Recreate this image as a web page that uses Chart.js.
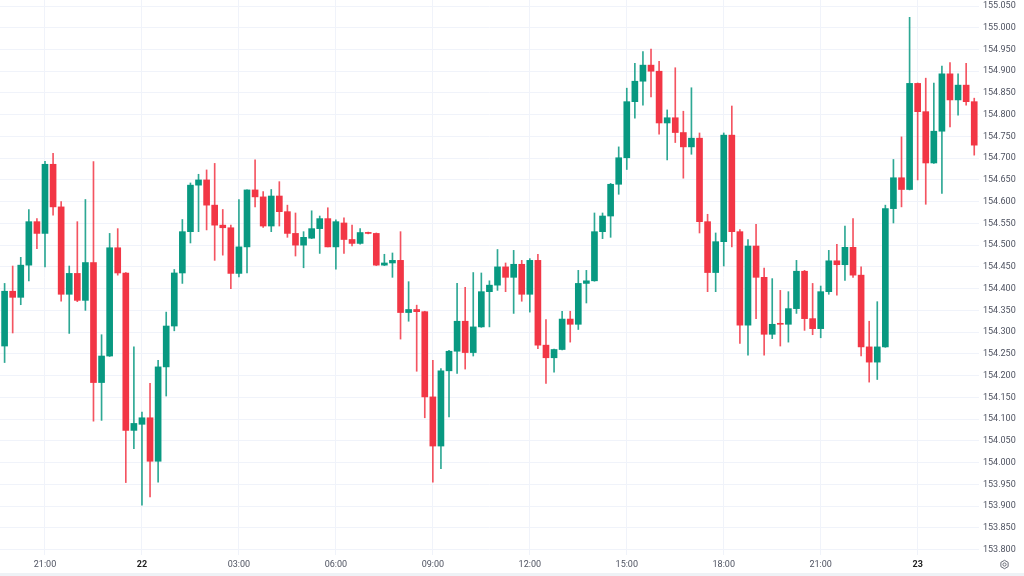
<!DOCTYPE html>
<html>
<head>
<meta charset="utf-8">
<script src="https://cdn.jsdelivr.net/npm/chart.js@4.4.1/dist/chart.umd.min.js"></script>
<style>
  html, body { margin: 0; padding: 0; background: #ffffff; }
  #wrap { width: 1024px; height: 576px; position: relative; }
  canvas { display: block; }
</style>
</head>
<body>
<div id="wrap"><canvas id="c" width="1024" height="576"></canvas></div>
<script>
// ---- DATA (15-minute candles, 21st 19:45 -> 23rd 01:45) ----
const startDay = 21;
const startMinutes = 19 * 60 + 45;
const stepMinutes = 15;

const open = [
  154.268,154.394,154.380,154.454,154.554,154.527,154.686,154.588,154.387,154.435,
  154.373,154.460,154.184,154.245,154.494,154.436,154.074,154.088,154.103,154.003,
  154.220,154.314,154.436,154.531,154.638,154.650,154.592,154.546,154.540,154.435,
  154.496,154.627,154.611,154.544,154.613,154.577,154.527,154.500,154.516,154.538,
  154.561,154.496,154.551,154.513,154.504,154.529,154.527,154.454,154.459,154.465,
  154.345,154.352,154.347,154.151,154.038,154.211,154.256,154.325,154.253,154.312,
  154.393,154.408,154.450,154.426,154.456,154.387,154.465,154.270,154.241,154.260,
  154.330,154.318,154.412,154.418,154.531,154.567,154.640,154.701,154.830,154.877,
  154.914,154.900,154.781,154.793,154.759,154.726,154.746,154.554,154.437,154.508,
  154.753,154.531,154.316,154.498,154.426,154.295,154.320,154.318,154.354,154.440,
  154.331,154.308,154.393,154.464,154.455,154.495,154.431,154.266,154.231,154.266,
  154.584,154.655,154.628,154.872,154.807,154.689,154.762,154.894,154.834,154.868,
  154.830
];
const high = [
  154.412,154.452,154.472,154.582,154.561,154.693,154.711,154.600,154.452,154.554,
  154.605,154.692,154.294,154.527,154.538,154.437,154.266,154.116,154.182,154.235,
  154.346,154.444,154.559,154.643,154.663,154.673,154.688,154.582,154.546,154.605,
  154.627,154.696,154.623,154.628,154.646,154.592,154.574,154.531,154.579,154.567,
  154.586,154.558,154.563,154.546,154.538,154.530,154.528,154.479,154.482,154.531,
  154.416,154.362,154.348,154.235,154.216,154.258,154.412,154.403,154.437,154.436,
  154.418,154.490,154.459,154.488,154.465,154.469,154.479,154.329,154.261,154.348,
  154.348,154.442,154.442,154.574,154.574,154.642,154.726,154.861,154.918,154.945,
  154.951,154.923,154.811,154.908,154.808,154.862,154.758,154.571,154.528,154.758,
  154.820,154.536,154.513,154.548,154.447,154.423,154.396,154.393,154.465,154.442,
  154.412,154.406,154.488,154.502,154.544,154.561,154.450,154.325,154.370,154.592,
  154.697,154.749,155.024,154.873,154.884,154.873,154.912,154.920,154.894,154.918,
  154.838
];
const low = [
  154.230,154.298,154.363,154.418,154.492,154.450,154.569,154.371,154.297,154.370,
  154.350,154.095,154.097,154.244,154.431,153.954,154.032,153.902,153.921,153.955,
  154.153,154.303,154.412,154.505,154.531,154.535,154.465,154.477,154.400,154.427,
  154.436,154.588,154.541,154.531,154.544,154.518,154.475,154.448,154.515,154.481,
  154.496,154.445,154.481,154.498,154.502,154.526,154.453,154.453,154.426,154.284,
  154.325,154.210,154.103,153.955,153.986,154.105,154.205,154.215,154.245,154.311,
  154.312,154.396,154.393,154.343,154.371,154.346,154.262,154.182,154.208,154.259,
  154.277,154.306,154.367,154.417,154.515,154.518,154.617,154.674,154.792,154.822,
  154.841,154.755,154.696,154.736,154.654,154.709,154.528,154.393,154.393,154.452,
  154.496,154.274,154.247,154.331,154.247,154.285,154.268,154.277,154.343,154.304,
  154.294,154.287,154.387,154.385,154.419,154.426,154.245,154.185,154.191,154.265,
  154.551,154.588,154.627,154.650,154.594,154.688,154.619,154.772,154.799,154.822,
  154.707
];
const close = [
  154.394,154.380,154.454,154.554,154.527,154.686,154.588,154.387,154.435,154.373,
  154.460,154.184,154.245,154.494,154.436,154.074,154.090,154.103,154.003,154.220,
  154.314,154.436,154.531,154.638,154.650,154.592,154.546,154.540,154.435,154.496,
  154.627,154.611,154.544,154.613,154.577,154.527,154.500,154.518,154.538,154.561,
  154.496,154.554,154.513,154.504,154.529,154.527,154.454,154.459,154.465,154.345,
  154.352,154.347,154.151,154.038,154.211,154.256,154.325,154.253,154.312,154.393,
  154.408,154.450,154.426,154.456,154.387,154.465,154.270,154.241,154.260,154.330,
  154.318,154.412,154.418,154.531,154.567,154.640,154.701,154.830,154.877,154.914,
  154.900,154.781,154.793,154.759,154.726,154.746,154.554,154.437,154.508,154.753,
  154.531,154.316,154.498,154.426,154.295,154.318,154.318,154.354,154.440,154.331,
  154.308,154.393,154.464,154.455,154.495,154.431,154.266,154.231,154.266,154.584,
  154.655,154.628,154.872,154.807,154.689,154.762,154.894,154.834,154.868,154.830,
  154.730
];

const xTickLabels = ['21:00','22','03:00','06:00','09:00','12:00','15:00','18:00','21:00','23'];
const yTickLabels = [
  '155.050','155.000','154.950','154.900','154.850','154.800','154.750','154.700','154.650',
  '154.600','154.550','154.500','154.450','154.400','154.350','154.300','154.250','154.200',
  '154.150','154.100','154.050','154.000','153.950','153.900','153.850','153.800'
];

// ---- time categories for each candle ----
const times = open.map((_, i) => {
  const m = startMinutes + stepMinutes * i;
  const mm = m % 1440;
  const hh = Math.floor(mm / 60), mi = mm % 60;
  return { day: startDay + Math.floor(m / 1440), label: String(hh).padStart(2,'0') + ':' + String(mi).padStart(2,'0'), hour: hh, minute: mi };
});
const tickIndex = times.map((t, i) => (t.minute === 0 && t.hour % 3 === 0) ? i : -1).filter(i => i >= 0);

const UP = '#089981', DOWN = '#F23645';
const colorOf = i => close[i] >= open[i] ? UP : DOWN;
const wickColorOf = i => close[i] >= open[i] ? 'rgba(8,153,129,0.85)' : 'rgba(242,54,69,0.85)';

const bodyData = open.map((o, i) => ({ x: i, y: [o, close[i]] }));
const wickData = open.map((o, i) => ({ x: i, y: [low[i], high[i]] }));

const FONT = 'Roboto, "Noto Sans", "DejaVu Sans", sans-serif';
const GRID = '#f0f3fa';

const decor = {
  id: 'decor',
  beforeDraw(chart) {
    const ctx = chart.ctx;
    ctx.save();
    ctx.fillStyle = '#ffffff';
    ctx.fillRect(0, 0, chart.width, chart.height);
    ctx.restore();
  },
  afterDraw(chart) {
    const ctx = chart.ctx;
    ctx.save();
    ctx.fillStyle = '#eef2f6';
    ctx.fillRect(0, 573, chart.width, 3);
    // settings icon
    ctx.strokeStyle = '#6a6d78';
    ctx.lineWidth = 1;
    ctx.beginPath();
    const cx = 1004.5, cy = 564.5;
    for (let k = 0; k < 6; k++) {
      const a = Math.PI / 6 + k * Math.PI / 3;
      const px = cx + 4.2 * Math.cos(a), py = cy + 4.2 * Math.sin(a);
      if (k === 0) ctx.moveTo(px, py); else ctx.lineTo(px, py);
    }
    ctx.closePath();
    ctx.stroke();
    ctx.beginPath();
    ctx.arc(cx, cy, 1.6, 0, Math.PI * 2);
    ctx.stroke();
    ctx.restore();
  }
};

new Chart(document.getElementById('c'), {
  type: 'bar',
  data: {
    datasets: [
      {
        label: 'body',
        data: bodyData,
        backgroundColor: open.map((_, i) => colorOf(i)),
        barThickness: 6,
        minBarLength: 1,
        grouped: false,
        borderWidth: 0
      },
      {
        label: 'wick',
        data: wickData,
        backgroundColor: open.map((_, i) => wickColorOf(i)),
        barThickness: 1,
        minBarLength: 1,
        grouped: false,
        borderWidth: 0
      }
    ]
  },
  options: {
    responsive: false,
    animation: false,
    devicePixelRatio: 1,
    layout: { padding: 0 },
    plugins: { legend: { display: false }, tooltip: { enabled: false } },
    scales: {
      x: {
        type: 'linear',
        offset: false,
        min: -0.569,
        max: 120.59,
        grid: { color: GRID, drawTicks: false, lineWidth: 1, offset: false },
        border: { display: false },
        afterBuildTicks(scale) { scale.ticks = tickIndex.map(v => ({ value: v })); },
        afterFit(scale) { scale.height = 21; scale.paddingLeft = 0; scale.paddingRight = 0; },
        ticks: {
          autoSkip: false,
          maxRotation: 0,
          padding: 4,
          callback: (v, idx) => xTickLabels[idx],
          font: (ctx) => ({ family: FONT, size: 9, weight: (ctx.tick && /^\d{2}$/.test(ctx.tick.label)) ? 'bold' : 'normal' }),
          color: (ctx) => (ctx.tick && /^\d{2}$/.test(ctx.tick.label)) ? '#1f1f1f' : '#4e5260'
        }
      },
      y: {
        position: 'right',
        min: 153.7874,
        max: 155.0638,
        grid: { color: GRID, drawTicks: false, lineWidth: 1 },
        border: { display: false },
        afterBuildTicks(scale) { scale.ticks = yTickLabels.map(s => ({ value: parseFloat(s) })); },
        afterFit(scale) { scale.width = 45; scale.paddingTop = 0; scale.paddingBottom = 0; },
        ticks: {
          padding: 4,
          callback: (v, idx) => yTickLabels[idx],
          font: { family: FONT, size: 9 },
          color: '#4e5260'
        }
      }
    }
  },
  plugins: [decor]
});
</script>
</body>
</html>
